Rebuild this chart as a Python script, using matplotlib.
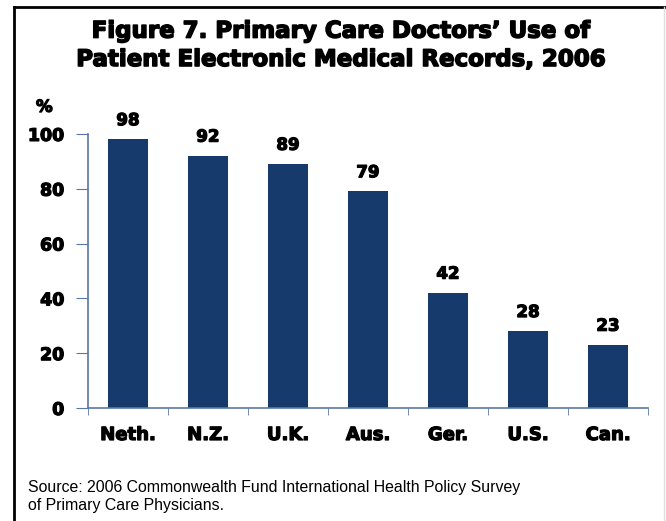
import matplotlib
matplotlib.use("Agg")
from matplotlib import pyplot as plt
from matplotlib.lines import Line2D
import matplotlib.patheffects as pe

plt.rcParams['font.family'] = ['DejaVu Sans']

countries = ["Neth.", "N.Z.", "U.K.", "Aus.", "Ger.", "U.S.", "Can."]
pct_use = [98, 92, 89, 79, 42, 28, 23]
y_ticks = [0, 20, 40, 60, 80, 100]

bar_color = "#173a6c"
axis_color = "#5877a6"
# thicken the bold lettering a little
heavy = [pe.withStroke(linewidth=0.9, foreground="black")]

fig = plt.figure(figsize=(6.66, 5.21), dpi=100)
ax = fig.add_axes([0.132, 0.217, 0.841, 0.526])

xs = list(range(len(countries)))
ax.bar(xs, pct_use, width=0.5, color=bar_color)
for x, v in zip(xs, pct_use):
    ax.text(x, v + 7, str(v), ha="center", va="center",
            fontsize=12, fontweight="bold", path_effects=heavy)

ax.set_xlim(-0.5, len(countries) - 0.5)
ax.set_ylim(0, 100)
ax.set_yticks(y_ticks)
ax.set_yticklabels([str(t) for t in y_ticks], fontsize=12.5, fontweight="bold")
ax.set_xticks(xs)
ax.set_xticklabels(countries, fontsize=13, fontweight="bold")
for lbl in ax.get_xticklabels() + ax.get_yticklabels():
    lbl.set_path_effects(heavy)

# ticks between the bars on the category axis
ax.set_xticks([x + 0.5 for x in range(-1, len(countries))], minor=True)
ax.tick_params(axis="x", which="major", length=0, pad=13)
ax.tick_params(axis="x", which="minor", length=5, color=axis_color, direction="out")
ax.tick_params(axis="y", length=9, color=axis_color, pad=8)

for side in ("top", "right"):
    ax.spines[side].set_visible(False)
for side in ("left", "bottom"):
    ax.spines[side].set_color(axis_color)
    ax.spines[side].set_linewidth(1.2)

fig.text(0.054, 0.795, "%", fontsize=12, fontweight="bold", ha="left", va="center",
         path_effects=heavy)

fig.text(0.511, 0.913, "Figure 7. Primary Care Doctors\u2019 Use of\nPatient Electronic Medical Records, 2006",
         ha="center", va="center", fontsize=16.5, fontweight="bold", linespacing=1.3,
         path_effects=[pe.withStroke(linewidth=1.1, foreground="black")])

fig.text(0.042, 0.047, "Source: 2006 Commonwealth Fund International Health Policy Survey\nof Primary Care Physicians.",
         ha="left", va="center", fontsize=11.4, family="Liberation Sans", linespacing=1.2)

# frame lines around the figure
fig.add_artist(Line2D([0.021, 0.021], [0.0, 0.987], transform=fig.transFigure, color="black", lw=2))
fig.add_artist(Line2D([0.021, 0.998], [0.987, 0.987], transform=fig.transFigure, color="black", lw=2))
fig.add_artist(Line2D([0.997, 0.997], [0.0, 0.987], transform=fig.transFigure, color="#dddddd", lw=1))

fig.savefig("out.png", dpi=100)
